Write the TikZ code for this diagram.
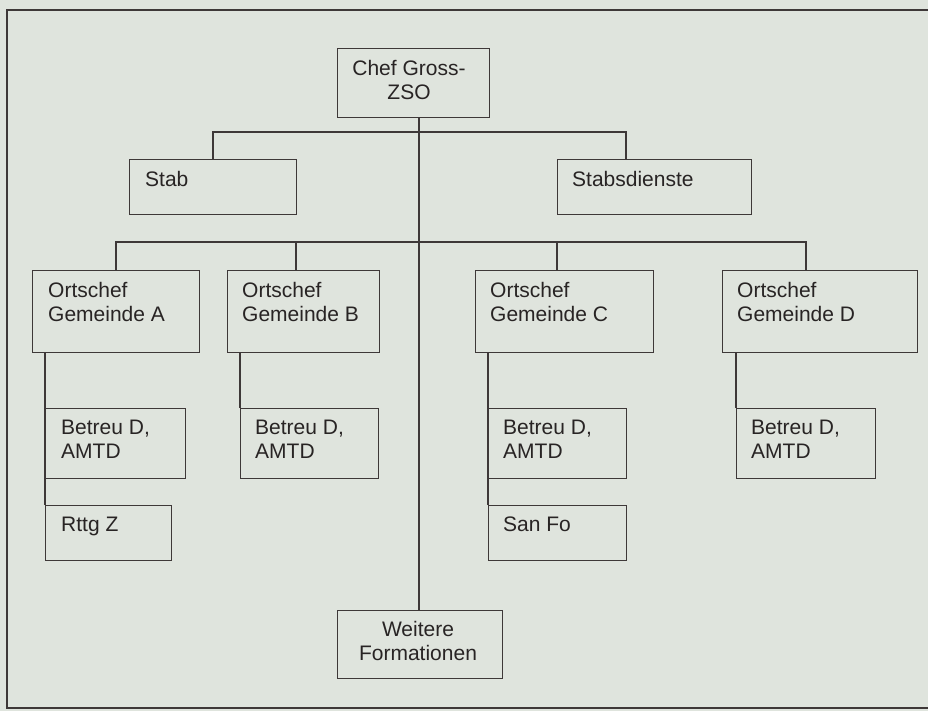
\documentclass[tikz,border=0pt]{standalone}
\usepackage{fontspec}
\setmainfont{Liberation Sans}
\definecolor{bg}{RGB}{223,228,221}
\definecolor{ln}{RGB}{62,56,56}
\definecolor{tx}{RGB}{40,36,36}
\begin{document}
\begin{tikzpicture}[x=1pt,y=-1pt,
  bx/.style={draw=ln,line width=1.2pt,rectangle,inner sep=0pt,anchor=north west},
  txt/.style={inner sep=0pt,anchor=north west,align=left,text=tx,font=\fontsize{21}{24}\selectfont},
  txc/.style={inner sep=0pt,anchor=north,align=center,text=tx,font=\fontsize{21}{24}\selectfont},
  con/.style={draw=ln,line width=1.2pt}]
\fill[bg] (0,0) rectangle (928,711);
\useasboundingbox (0,0) rectangle (928,711);
% frame
\draw[con] (940,10) -- (7,10) -- (7,708) -- (940,708);
% boxes
\node[bx,minimum width=152pt,minimum height=69pt] (C0) at (337,48) {};
\node[bx,minimum width=167pt,minimum height=55pt] (St) at (129,159) {};
\node[bx,minimum width=194pt,minimum height=55pt] (Sd) at (557,159) {};
\node[bx,minimum width=167pt,minimum height=82pt] (OA) at (32,270) {};
\node[bx,minimum width=152pt,minimum height=82pt] (OB) at (227,270) {};
\node[bx,minimum width=178pt,minimum height=82pt] (OC) at (475,270) {};
\node[bx,minimum width=195pt,minimum height=82pt] (OD) at (722,270) {};
\node[bx,minimum width=140pt,minimum height=70pt] (BA) at (45,408) {};
\node[bx,minimum width=138pt,minimum height=70pt] (BB) at (240,408) {};
\node[bx,minimum width=138pt,minimum height=70pt] (BC) at (488,408) {};
\node[bx,minimum width=139pt,minimum height=70pt] (BD) at (736,408) {};
\node[bx,minimum width=126pt,minimum height=55pt] (RA) at (45,505) {};
\node[bx,minimum width=138pt,minimum height=55pt] (SC) at (488,505) {};
\node[bx,minimum width=165pt,minimum height=68pt] (W) at (337,610) {};
% texts
\node[txc] (tC0) at (409,60) {Chef Gross-\\ZSO};
\node[txt] (tSt) at (145,171) {Stab};
\node[txt] (tSd) at (572,171) {Stabsdienste};
\node[txt] (tOA) at (48,282) {Ortschef\\Gemeinde A};
\node[txt] (tOB) at (242,282) {Ortschef\\Gemeinde B};
\node[txt] (tOC) at (490,282) {Ortschef\\Gemeinde C};
\node[txt] (tOD) at (737,282) {Ortschef\\Gemeinde D};
\node[txt] (tBA) at (61,420) {Betreu D,\\AMTD};
\node[txt] (tBB) at (255,420) {Betreu D,\\AMTD};
\node[txt] (tBC) at (503,420) {Betreu D,\\AMTD};
\node[txt] (tBD) at (751,420) {Betreu D,\\AMTD};
\node[txt] (tRA) at (61,517) {Rttg Z};
\node[txt] (tSC) at (503,517) {San Fo};
\node[txc] (tW) at (418,621) {Weitere\\Formationen};
% connectors
\coordinate (cx) at (419,0);
\coordinate (h1l) at (213,132);
\coordinate (h1r) at (626,132);
\coordinate (h2l) at (116,242);
\coordinate (h2b) at (296,242);
\coordinate (h2c) at (557,242);
\coordinate (h2r) at (806,242);
\draw[con] (C0.south -| cx) -- (W.north -| cx);
\draw[con] (h1l |- St.north) -- (h1l) -- (h1r) -- (h1r |- Sd.north);
\draw[con] (h2l |- OA.north) -- (h2l) -- (h2r) -- (h2r |- OD.north);
\draw[con] (h2b) -- (h2b |- OB.north);
\draw[con] (h2c) -- (h2c |- OC.north);
\draw[con] (OA.south -| RA.north west) -- (RA.north west);
\draw[con] (OB.south -| BB.north west) -- (BB.north west);
\draw[con] (OC.south -| SC.north west) -- (SC.north west);
\draw[con] (OD.south -| BD.north west) -- (BD.north west);
\end{tikzpicture}
\end{document}
